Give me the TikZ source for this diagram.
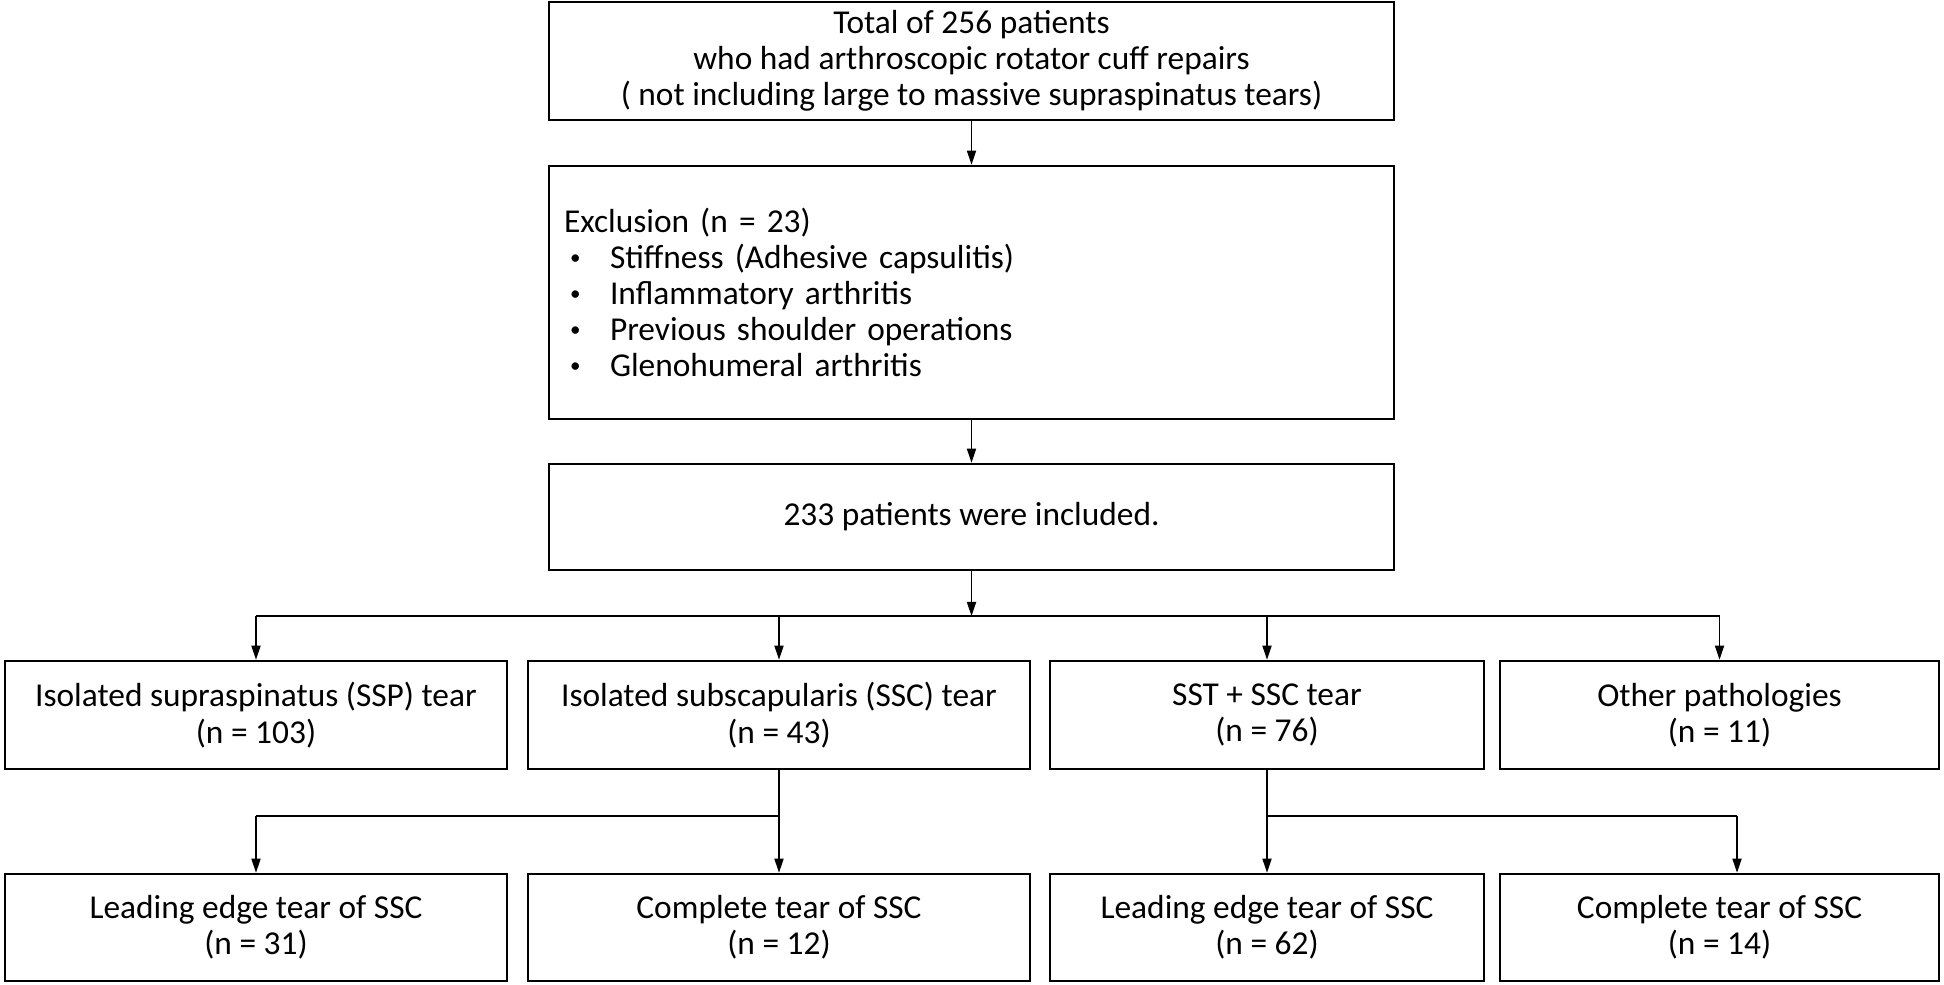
\documentclass[tikz,border=0pt]{standalone}
\usepackage{fontspec}
\setmainfont{Carlito}
\usetikzlibrary{arrows.meta,calc}

\newcommand{\drawdrops}[2] {
  \foreach \n in {#2} {
    \draw[link, tip] (#1 -| \n.north) -- (\n.north); % drop from bar to box
  }
}
\newcommand{\bul}{\makebox[0.46cm][l]{\hspace{0.06cm}\raisebox{0.25ex}{\fontsize{6}{6}\selectfont\textbullet}}}

\begin{document}
\begin{tikzpicture}[
    box/.style={draw, line width=0.75pt, minimum height=#1, inner sep=0pt, align=center,
                font=\fontsize{9.5}{10.3}\selectfont},
    link/.style={line width=0.4pt},
    tip/.style={-{Triangle[length=4pt,width=2.6pt]}}
  ]
    \useasboundingbox (0,0) rectangle (19.44,-9.85);

    % main column
    \node[box=1.18cm, minimum width=8.45cm] (total) at (9.715,-0.61)
      {Total of 256 patients\\who had arthroscopic rotator cuff repairs\\( not including large to massive supraspinatus tears)};
    \node[box=2.53cm, minimum width=8.45cm, text width=8.15cm, inner xsep=0.15cm, align=left] (excl) at (9.715,-2.925)
      {Exclusion (n = 23)\\
       \bul Stiffness (Adhesive capsulitis)\\
       \bul Inflammatory arthritis\\
       \bul Previous shoulder operations\\
       \bul Glenohumeral arthritis};
    \node[box=1.06cm, minimum width=8.45cm] (incl) at (9.715,-5.17) {233 patients were included.};

    % tear types
    \node[box=1.08cm, minimum width=5.02cm] (ssp) at (2.56,-7.15) {Isolated supraspinatus (SSP) tear\\(n = 103)};
    \node[box=1.08cm, minimum width=5.02cm] (ssc) at (7.79,-7.15) {Isolated subscapularis (SSC) tear\\(n = 43)};
    \node[box=1.08cm, minimum width=4.34cm] (both) at (12.67,-7.15) {SST + SSC tear\\(n = 76)};
    \node[box=1.08cm, minimum width=4.39cm] (other) at (17.195,-7.15) {Other pathologies\\(n = 11)};

    % SSC subgroups
    \node[box=1.07cm, minimum width=5.02cm] (lead1) at (2.56,-9.275) {Leading edge tear of SSC\\(n = 31)};
    \node[box=1.07cm, minimum width=5.02cm] (comp1) at (7.79,-9.275) {Complete tear of SSC\\(n = 12)};
    \node[box=1.07cm, minimum width=4.34cm] (lead2) at (12.67,-9.275) {Leading edge tear of SSC\\(n = 62)};
    \node[box=1.07cm, minimum width=4.39cm] (comp2) at (17.195,-9.275) {Complete tear of SSC\\(n = 14)};

    \draw[link, tip] (total) -- (excl);
    \draw[link, tip] (excl) -- (incl);

    \coordinate (split) at (9.715,-6.16);
    \draw[link, tip] (incl) -- (split);
    \draw[link] (split -| ssp.north) -- (split -| other.north);
    \drawdrops{split}{ssp,ssc,both,other}

    \coordinate (splitA) at (7.79,-8.16);
    \draw[link] (ssc.south) -- (splitA);
    \draw[link] (splitA) -- (splitA -| lead1.north);
    \drawdrops{splitA}{lead1,comp1}

    \coordinate (splitB) at (12.67,-8.16);
    \coordinate (dropB) at (17.37,-8.16);
    \draw[link] (both.south) -- (splitB) -- (dropB);
    \draw[link, tip] (splitB) -- (lead2.north);
    \draw[link, tip] (dropB) -- (dropB |- comp2.north);
\end{tikzpicture}
\end{document}
